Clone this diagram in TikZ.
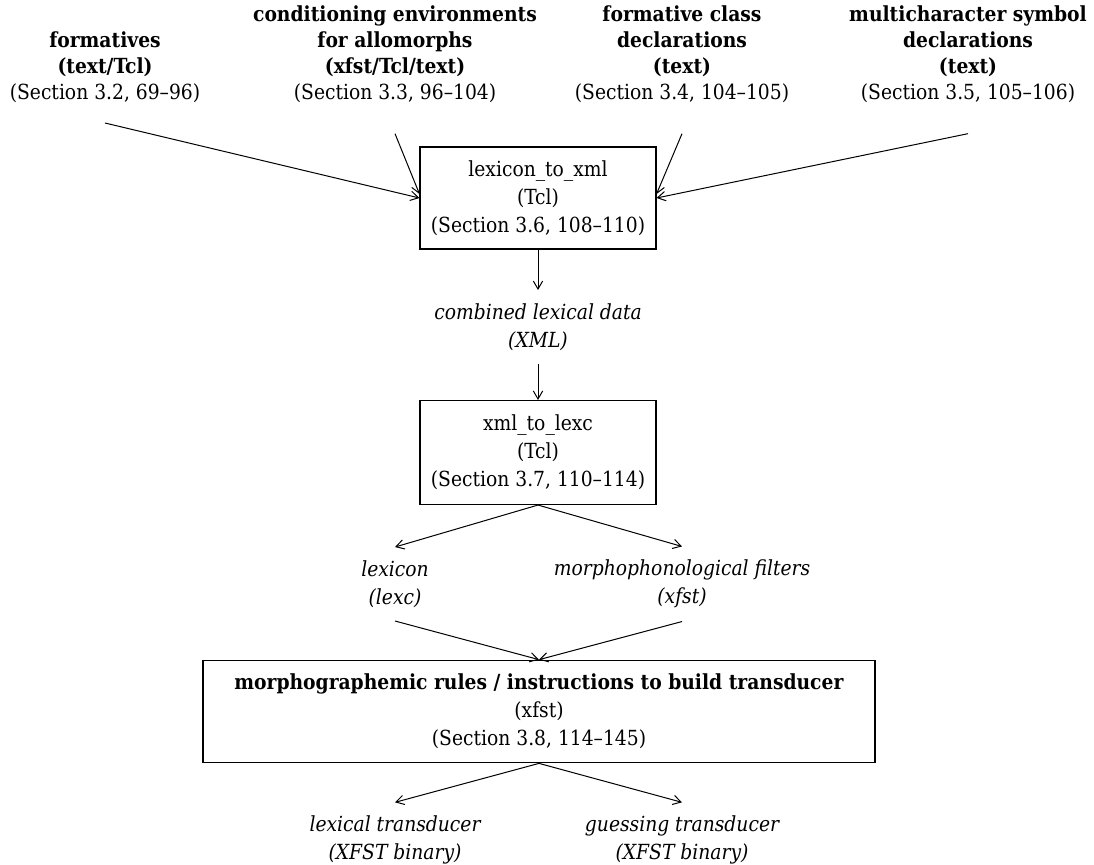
\documentclass[tikz,border=0pt]{standalone}
\usepackage{fontspec}
\setmainfont{DejaVu Serif Condensed}
\usetikzlibrary{arrows.meta}
\begin{document}
\begin{tikzpicture}[x=0.75pt,y=-0.75pt,
  every node/.style={font=\fontsize{15.6}{19.6}\selectfont, align=center},
  txt/.style={inner xsep=0pt, inner ysep=10pt, font=\fontsize{15.6}{20.8}\selectfont},
  top/.style={inner sep=0pt, anchor=south},
  box/.style={draw, line width=0.8pt, inner sep=0pt, font=\fontsize{15.6}{21}\selectfont},
  arr/.style={-{Straight Barb[length=6pt,width=7pt]}, line width=0.75pt}]
\useasboundingbox (0,0) rectangle (1094,864);

% top inputs
\node[top] (form) at (105,103) {\textbf{formatives}\\\textbf{(text/Tcl)}\\(Section 3.2, 69–96)};
\node[top] (cond) at (395,103) {\textbf{conditioning environments}\\\textbf{for allomorphs}\\\textbf{(xfst/Tcl/text)}\\(Section 3.3, 96–104)};
\node[top] (fcd) at (682,103) {\textbf{formative class}\\\textbf{declarations}\\\textbf{(text)}\\(Section 3.4, 104–105)};
\node[top] (msd) at (968,103) {\textbf{multicharacter symbol}\\\textbf{declarations}\\\textbf{(text)}\\(Section 3.5, 105–106)};

% boxes
\node[box, minimum width=177pt, minimum height=76.5pt] (ltx) at (538,198) {lexicon\_to\_xml\\(Tcl)\\(Section 3.6, 108–110)};
\node[box, minimum width=177pt, minimum height=78pt] (xtl) at (538,452.5) {xml\_to\_lexc\\(Tcl)\\(Section 3.7, 110–114)};
\node[box, minimum width=504pt, minimum height=77pt] (mr) at (539,711.5) {\textbf{morphographemic rules / instructions to build transducer}\\(xfst)\\(Section 3.8, 114–145)};

% intermediate data
\node[txt] (cld) at (538,327) {\itshape combined lexical data\\\itshape (XML)};
\node[txt] (lex) at (395,584) {\itshape lexicon\\\itshape (lexc)};
\node[txt] (mpf) at (682,584) {\itshape morphophonological filters\\\itshape (xfst)};
\node[txt] (lt) at (395,840) {\itshape lexical transducer\\\itshape (XFST binary)};
\node[txt] (gt) at (682,840) {\itshape guessing transducer\\\itshape (XFST binary)};

% connectors
\draw[arr] ([yshift=-15pt]form.south) -- (ltx.west);
\draw[arr] ([yshift=-23pt]cond.south) -- ([yshift=3pt]ltx.west);
\draw[arr] ([yshift=-23pt]fcd.south) -- ([yshift=3pt]ltx.east);
\draw[arr] ([yshift=-23pt]msd.south) -- (ltx.east);
\draw[arr] (ltx.south) -- (cld.north);
\draw[arr] (cld.south) -- (xtl.north);
\draw[arr] (xtl.south) -- (lex.north);
\draw[arr] (xtl.south) -- (mpf.north);
\draw[arr] (lex.south) -- (mr.north);
\draw[arr] (mpf.south) -- (mr.north);
\draw[arr] (mr.south) -- (lt.north);
\draw[arr] (mr.south) -- (gt.north);
\end{tikzpicture}
\end{document}
